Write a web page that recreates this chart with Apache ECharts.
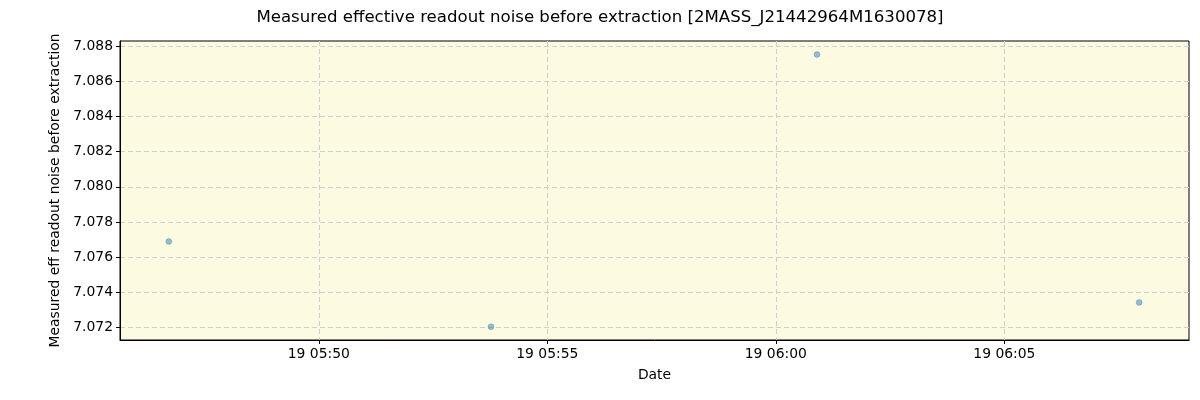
<!DOCTYPE html>
<html>
<head>
<meta charset="utf-8">
<script src="https://cdn.jsdelivr.net/npm/echarts@6/dist/echarts.min.js"></script>
<style>html,body{margin:0;padding:0;background:#fff;}#c{width:1200px;height:400px;}</style>
</head>
<body>
<div id="c"></div>
<script>
// Data (times on day 19, HH:MM:SS)
const obsTimes = ["05:46:43", "05:53:46", "06:00:54", "06:07:57"];
const noiseValues = [7.07689, 7.07203, 7.08753, 7.07342];
// Tick positions (minutes after 05:00) and labels
const xTickMinutes = [50, 55, 60, 65];
const xTickLabels = ["19 05:50", "19 05:55", "19 06:00", "19 06:05"];
const yTickValues = [7.072, 7.074, 7.076, 7.078, 7.080, 7.082, 7.084, 7.086, 7.088];

function toMinutes(t) {
  const p = t.split(':').map(Number);
  return (p[0] - 5) * 60 + p[1] + p[2] / 60;
}
const points = obsTimes.map((t, i) => [toMinutes(t), noiseValues[i]]);
const xLabelMap = {};
xTickMinutes.forEach((v, i) => { xLabelMap[v] = xTickLabels[i]; });

const font = 'DejaVu Sans';
const chart = echarts.init(document.getElementById('c'));
chart.setOption({
  animation: false,
  backgroundColor: '#ffffff',
  title: {
    text: 'Measured effective readout noise before extraction [2MASS_J21442964M1630078]',
    left: 'center', top: 4,
    textStyle: { fontFamily: font, fontSize: 16.6, fontWeight: 'normal', color: '#000' }
  },
  grid: {
    left: 120, right: 11, top: 41, bottom: 60,
    show: true, backgroundColor: '#fcfae1', borderColor: '#000', borderWidth: 1
  },
  xAxis: {
    type: 'value',
    min: 45.65, max: 69.04,
    name: 'Date', nameLocation: 'middle', nameGap: 28,
    nameTextStyle: { fontFamily: font, fontSize: 13.9, color: '#000' },
    axisLine: { show: true, lineStyle: { color: '#000' } },
    axisTick: { show: true, length: 4, lineStyle: { color: '#000' }, customValues: xTickMinutes },
    axisLabel: {
      customValues: xTickMinutes, fontFamily: font, fontSize: 13.9, color: '#000', margin: 7,
      formatter: v => xLabelMap[Math.round(v)] || ''
    },
    splitLine: { show: true, lineStyle: { color: '#cfcfcf', type: [5, 3], width: 1 } }
  },
  yAxis: {
    type: 'value',
    min: 7.07128, max: 7.0883,
    name: 'Measured eff readout noise before extraction', nameLocation: 'middle', nameGap: 56,
    nameTextStyle: { fontFamily: font, fontSize: 13.9, color: '#000' },
    axisLine: { show: true, lineStyle: { color: '#000' } },
    axisTick: { show: true, length: 4, lineStyle: { color: '#000' }, customValues: yTickValues },
    axisLabel: {
      customValues: yTickValues, fontFamily: font, fontSize: 13.9, color: '#000', margin: 7,
      formatter: v => v.toFixed(3)
    },
    splitLine: { show: true, lineStyle: { color: '#cfcfcf', type: [5, 3], width: 1 } }
  },
  series: [{
    type: 'scatter',
    data: points,
    symbol: 'circle',
    symbolSize: 6,
    itemStyle: { color: 'rgba(31,119,180,0.6)', borderColor: 'rgba(31,119,180,0.6)', borderWidth: 0.5 }
  }]
});
</script>
</body>
</html>
